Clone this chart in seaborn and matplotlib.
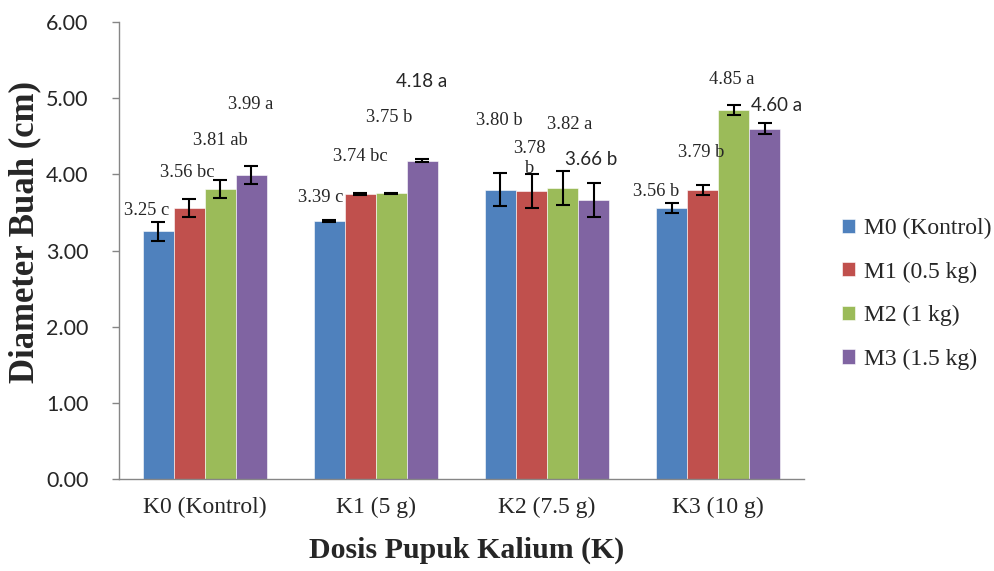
import pandas as pd
import matplotlib.pyplot as plt
import seaborn as sns

# data
dosis = ["K0 (Kontrol)", "K1 (5 g)", "K2 (7.5 g)", "K3 (10 g)"]
mulsa = ["M0 (Kontrol)", "M1 (0.5 kg)", "M2 (1 kg)", "M3 (1.5 kg)"]
diameter = {
    "M0 (Kontrol)": [3.25, 3.39, 3.80, 3.56],
    "M1 (0.5 kg)": [3.56, 3.74, 3.78, 3.79],
    "M2 (1 kg)": [3.81, 3.75, 3.82, 4.85],
    "M3 (1.5 kg)": [3.99, 4.18, 3.66, 4.60],
}
galat = {
    "M0 (Kontrol)": [0.12, 0.01, 0.22, 0.065],
    "M1 (0.5 kg)": [0.12, 0.01, 0.22, 0.065],
    "M2 (1 kg)": [0.12, 0.01, 0.22, 0.065],
    "M3 (1.5 kg)": [0.12, 0.015, 0.22, 0.07],
}
notasi = {
    "M0 (Kontrol)": ["3.25 c", "3.39 c", "3.80 b", "3.56 b"],
    "M1 (0.5 kg)": ["3.56 bc", "3.74 bc", "3.78\nb", "3.79 b"],
    "M2 (1 kg)": ["3.81 ab", "3.75 b", "3.82 a", "4.85 a"],
    "M3 (1.5 kg)": ["3.99 a", "4.18 a", "3.66 b", "4.60 a"],
}
warna = ["#4F81BD", "#C0504D", "#9BBB59", "#8064A2"]

# posisi label (offset x dari tengah grup, y)
pos_label = {
    "M0 (Kontrol)": [(-0.34, 3.53), (-0.32, 3.69), (-0.28, 4.71), (-0.36, 3.77)],
    "M1 (0.5 kg)": [(-0.10, 4.03), (-0.09, 4.23), (-0.10, 4.21), (-0.10, 4.29)],
    "M2 (1 kg)": [(0.09, 4.45), (0.08, 4.75), (0.13, 4.65), (0.08, 5.25)],
    "M3 (1.5 kg)": [(0.27, 4.92), (0.265, 5.22), (0.26, 4.19), (0.34, 4.91)],
}
label_sans = {("M3 (1.5 kg)", 1), ("M3 (1.5 kg)", 2), ("M3 (1.5 kg)", 3)}

rows = []
for m in mulsa:
    for i, k in enumerate(dosis):
        rows.append({"Dosis": k, "Mulsa": m, "Diameter": diameter[m][i], "SE": galat[m][i]})
data = pd.DataFrame(rows)

sns.set_style("white")
plt.rcParams['font.family'] = ['Liberation Serif', 'DejaVu Sans']

fig = plt.figure(figsize=(9.94, 5.71), dpi=100)
ax = fig.add_axes([0.1197, 0.161, 0.689, 0.8005])

sns.barplot(data=data, x="Dosis", y="Diameter", hue="Mulsa", order=dosis, hue_order=mulsa,
            palette=warna, saturation=1, width=0.725, errorbar=None,
            edgecolor="white", linewidth=0.4, ax=ax)

# error bar dan label
for j, m in enumerate(mulsa):
    bars = ax.containers[j]
    for i, bar in enumerate(bars):
        xc = bar.get_x() + bar.get_width() / 2
        ax.errorbar(xc, bar.get_height(), yerr=galat[m][i], fmt="none", ecolor="black",
                    elinewidth=1.5, capsize=4.8, capthick=1.5, zorder=5)
        dx, ty = pos_label[m][i]
        if (m, i) in label_sans:
            ax.text(i + dx, ty, notasi[m][i], ha="center", va="center",
                    fontsize=13.5, family=["Lato", "DejaVu Sans"])
        else:
            ax.text(i + dx, ty, notasi[m][i], ha="center", va="center",
                    fontsize=13.3, linespacing=1.25)

ax.set_xlim(-0.5, 3.5)
ax.set_ylim(0, 6)
ax.set_yticks([0, 1, 2, 3, 4, 5, 6])
ax.set_yticklabels([f"{v:.2f}" for v in range(7)], family=["Lato", "DejaVu Sans"], fontsize=15.5)
ax.set_xticks([0, 1, 2, 3])
ax.set_xticklabels(dosis, fontsize=17)
ax.set_xticks([-0.5, 0.5, 1.5, 2.5, 3.5], minor=True)
ax.tick_params(axis="x", which="major", length=0, pad=13)
ax.tick_params(axis="x", which="minor", length=5, width=1, color="#868686", direction="out")
ax.tick_params(axis="y", length=5, width=1, color="#868686", direction="out", pad=17, left=True)

for s in ["top", "right"]:
    ax.spines[s].set_visible(False)
for s in ["left", "bottom"]:
    ax.spines[s].set_color("#868686")
    ax.spines[s].set_linewidth(1)

ax.set_xlabel("Dosis Pupuk Kalium (K)", fontsize=21.5, fontweight="bold", labelpad=12)
ax.set_ylabel("Diameter Buah (cm)", fontsize=25, fontweight="bold")
ax.yaxis.set_label_coords(-0.113, 0.54)
ax.xaxis.set_label_coords(0.508, -0.125)

ax.legend(loc="center left", bbox_to_anchor=(1.055, 0.405), frameon=False, fontsize=17,
          handlelength=0.55, handleheight=0.55, handletextpad=0.4, labelspacing=0.95,
          borderaxespad=0, borderpad=0)

plt.savefig("out.png", dpi=100)
